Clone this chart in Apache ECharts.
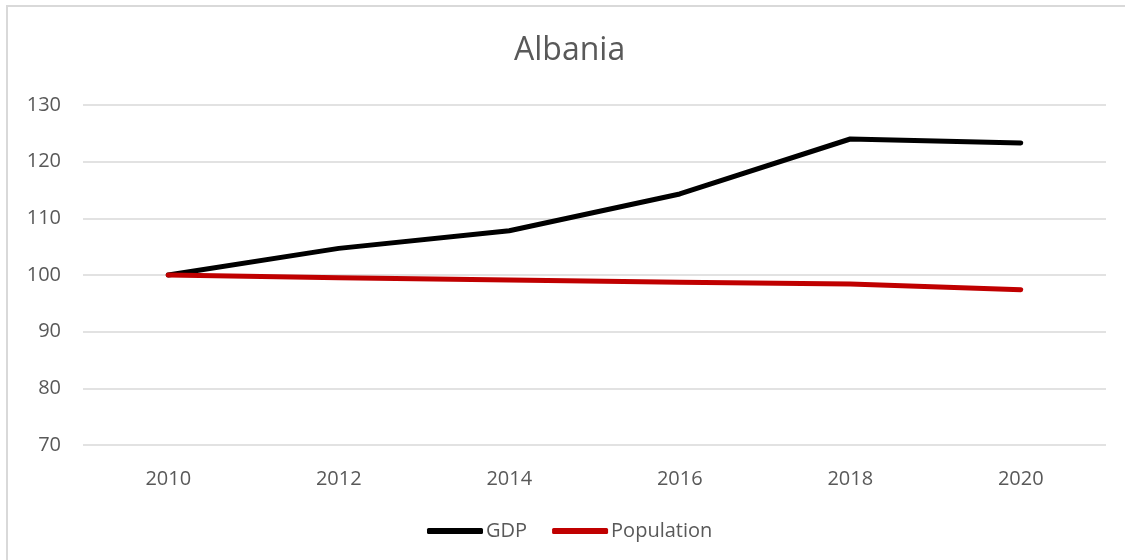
<!DOCTYPE html>
<html>
<head>
<meta charset="utf-8">
<script src="https://cdn.jsdelivr.net/npm/echarts@6/dist/echarts.min.js"></script>
<style>
  html, body { margin: 0; padding: 0; background: #fff; }
  #chart { width: 1125px; height: 560px; }
</style>
</head>
<body>
<div id="chart"></div>
<script>
// index values, 2010 = 100
var years = ['2010', '2012', '2014', '2016', '2018', '2020'];
var gdp = [100, 104.7, 107.8, 114.3, 124.0, 123.3];
var population = [100, 99.5, 99.1, 98.7, 98.4, 97.4];

var textColor = '#595959';
var font = 'Open Sans';

var chart = echarts.init(document.getElementById('chart'));

chart.setOption({
    animation: false,
    backgroundColor: '#fff',
    // the chart box runs past the right edge, so its centre sits at ~572
    title: {
        text: 'Albania',
        left: 514,
        top: 35,
        padding: 0,
        textStyle: {
            color: textColor,
            fontFamily: font,
            fontSize: 32,
            fontWeight: 'normal'
        }
    },
    graphic: [{
        type: 'rect',
        shape: { x: 7, y: 6, width: 1140, height: 580 },
        style: { fill: 'none', stroke: '#d9d9d9', lineWidth: 2 },
        silent: true
    }],
    legend: {
        bottom: 19,
        left: 427,
        padding: 0,
        icon: 'roundRect',
        itemWidth: 56,
        itemHeight: 6,
        itemGap: 25,
        textStyle: {
            color: textColor,
            fontFamily: font,
            fontSize: 20,
            padding: [0, 0, 0, -2]
        },
        data: ['GDP', 'Population']
    },
    grid: {
        left: 83,
        right: 19,
        top: 105,
        bottom: 115
    },
    xAxis: {
        type: 'category',
        data: years,
        boundaryGap: true,
        axisLine: { show: false },
        axisTick: { show: false },
        axisLabel: {
            color: textColor,
            fontFamily: font,
            fontSize: 20,
            margin: 24
        }
    },
    yAxis: {
        type: 'value',
        min: 70,
        max: 130,
        interval: 10,
        axisLine: { show: false },
        axisTick: { show: false },
        splitLine: { lineStyle: { color: '#d9d9d9', width: 1.5 } },
        axisLabel: {
            color: textColor,
            fontFamily: font,
            fontSize: 20,
            margin: 22
        }
    },
    series: [{
        name: 'GDP',
        type: 'line',
        data: gdp,
        symbol: 'none',
        itemStyle: { color: '#000000' },
        lineStyle: { color: '#000000', width: 5, cap: 'round', join: 'round' },
        z: 3
    }, {
        name: 'Population',
        type: 'line',
        data: population,
        symbol: 'none',
        itemStyle: { color: '#c00000' },
        lineStyle: { color: '#c00000', width: 5, cap: 'round', join: 'round' },
        z: 4
    }]
});
</script>
</body>
</html>
